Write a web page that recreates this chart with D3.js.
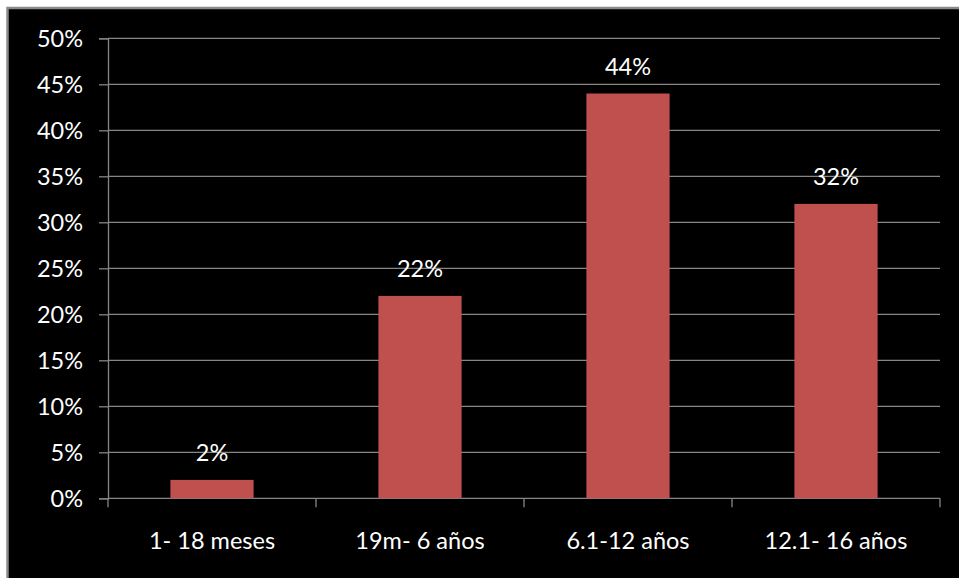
<!DOCTYPE html>
<html>
<head>
<meta charset="utf-8">
<script src="https://cdn.jsdelivr.net/npm/d3@7"></script>
<style>
  html, body { margin: 0; padding: 0; background: #ffffff; }
  svg { display: block; }
</style>
</head>
<body>
<svg id="chart" width="959" height="578"></svg>
<script>
// Age groups and share of cases in each
const categories = ["1- 18 meses", "19m- 6 años", "6.1-12 años", "12.1- 16 años"];
const values = [0.02, 0.22, 0.44, 0.32];
const yTicks = [0, 0.05, 0.10, 0.15, 0.20, 0.25, 0.30, 0.35, 0.40, 0.45, 0.50];

const W = 959, H = 578;
const font = "Lato, 'Open Sans', sans-serif";
const fontSize = "23.5px";
const svg = d3.select("#chart");

// framed black panel
svg.append("rect")
  .attr("x", 7.5).attr("y", 8)
  .attr("width", W + 10).attr("height", H + 10)
  .attr("fill", "#000000")
  .attr("stroke", "#8a8a8a")
  .attr("stroke-width", 2.5);

const plot = { left: 108, right: 940, top: 38.3, bottom: 498.3 };

const x = d3.scaleBand()
  .domain(categories)
  .range([plot.left, plot.right])
  .paddingInner(0.6)
  .paddingOuter(0.3);

const y = d3.scaleLinear()
  .domain([0, 0.5])
  .range([plot.bottom, plot.top]);

// horizontal gridlines
svg.append("g")
  .selectAll("line")
  .data(yTicks.filter(d => d > 0))
  .join("line")
  .attr("x1", plot.left).attr("x2", plot.right)
  .attr("y1", d => y(d)).attr("y2", d => y(d))
  .attr("stroke", "#868686")
  .attr("stroke-width", 1.3);

// y axis
const yAxis = svg.append("g")
  .attr("transform", `translate(${plot.left},0)`)
  .call(d3.axisLeft(y).tickValues(yTicks).tickFormat(d3.format(".0%")).tickSize(9).tickPadding(16));
yAxis.select(".domain").attr("stroke", "#868686").attr("stroke-width", 1.3);
yAxis.selectAll(".tick line").attr("stroke", "#868686").attr("stroke-width", 1.3);
yAxis.selectAll(".tick text")
  .attr("fill", "#ffffff")
  .attr("dy", "0.36em")
  .style("font-family", font)
  .style("font-size", fontSize);

// x axis with tick marks between categories
const bounds = d3.range(categories.length + 1).map(i => plot.left + i * (plot.right - plot.left) / categories.length);
svg.append("line")
  .attr("x1", plot.left).attr("x2", plot.right)
  .attr("y1", plot.bottom).attr("y2", plot.bottom)
  .attr("stroke", "#868686").attr("stroke-width", 1.3);
svg.append("g")
  .selectAll("line")
  .data(bounds)
  .join("line")
  .attr("x1", d => d).attr("x2", d => d)
  .attr("y1", plot.bottom).attr("y2", plot.bottom + 9)
  .attr("stroke", "#868686").attr("stroke-width", 1.3);

svg.append("g")
  .selectAll("text")
  .data(categories)
  .join("text")
  .attr("x", d => x(d) + x.bandwidth() / 2)
  .attr("y", 549)
  .attr("text-anchor", "middle")
  .attr("fill", "#ffffff")
  .style("font-family", font)
  .style("font-size", fontSize)
  .text(d => d);

// bars
svg.append("g")
  .selectAll("rect")
  .data(values)
  .join("rect")
  .attr("x", (d, i) => x(categories[i]))
  .attr("y", d => y(d))
  .attr("width", x.bandwidth())
  .attr("height", d => y(0) - y(d))
  .attr("fill", "#c0504d");

// value labels
svg.append("g")
  .selectAll("text")
  .data(values)
  .join("text")
  .attr("x", (d, i) => x(categories[i]) + x.bandwidth() / 2)
  .attr("y", d => y(d) - 19)
  .attr("text-anchor", "middle")
  .attr("fill", "#ffffff")
  .style("font-family", font)
  .style("font-size", fontSize)
  .text(d => d3.format(".0%")(d));
</script>
</body>
</html>
